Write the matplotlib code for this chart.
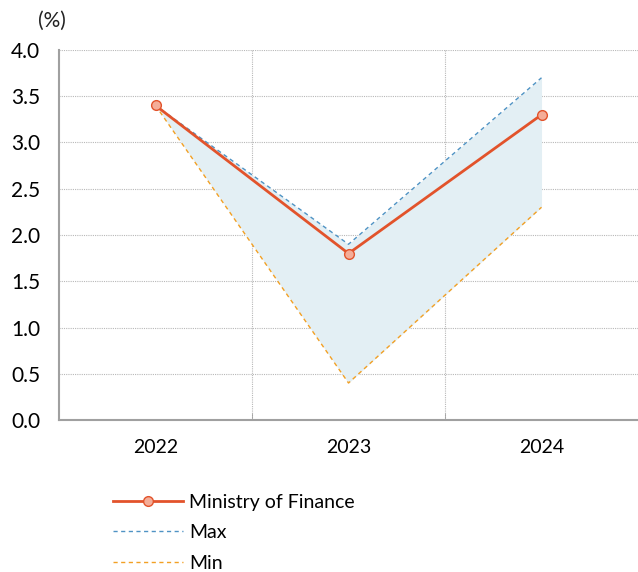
import matplotlib
matplotlib.use("Agg")
import matplotlib.pyplot as plt
import numpy as np

years = ["2022", "2023", "2024"]
mof = [3.4, 1.8, 3.3]
max_vals = [3.4, 1.9, 3.7]
min_vals = [3.4, 0.4, 2.3]
y_ticks = [0.0, 0.5, 1.0, 1.5, 2.0, 2.5, 3.0, 3.5, 4.0]

plt.rcParams["font.family"] = ["Lato", "DejaVu Sans"]

fig = plt.figure(figsize=(6.38, 5.72), dpi=100)
ax = fig.add_axes([0.0925, 0.2657, 0.9075, 0.6469])

x = np.arange(len(years))

ax.fill_between(x, min_vals, max_vals, color="#e3eff4", lw=0, zorder=1)
ax.plot(x, max_vals, ls=(0, (3, 2.5)), color="#4f93c4", lw=1.0, zorder=3, label="Max")
ax.plot(x, min_vals, ls=(0, (3, 2.5)), color="#f2a024", lw=1.0, zorder=3, label="Min")
ax.plot(x, mof, color="#e2532b", lw=2.0, marker="o", markersize=7,
        markerfacecolor="#f4ad98", markeredgecolor="#e2532b", markeredgewidth=1.0,
        zorder=4, label="Ministry of Finance")

ax.set_xlim(-0.5, 2.5)
ax.set_ylim(0, 4.0)
ax.set_yticks(y_ticks)
ax.set_yticklabels([f"{v:.1f}" for v in y_ticks], fontsize=15)
ax.set_xticks(x)
ax.set_xticklabels(years, fontsize=14)
ax.tick_params(axis="x", length=0, pad=14)
ax.tick_params(axis="y", length=0, pad=13.5)

# category boundaries
bounds = [0.5, 1.5]
ax.set_xticks(bounds, minor=True)
ax.tick_params(axis="x", which="minor", length=5, direction="in", color="#a0a0a0")
ax.grid(axis="x", which="minor", ls=(0, (1, 1)), color="#b8b8b8", lw=0.8)
ax.grid(axis="y", which="major", ls=(0, (1, 1)), color="#b8b8b8", lw=0.8)
ax.set_axisbelow(True)

for s in ["top", "right"]:
    ax.spines[s].set_visible(False)
for s in ["left", "bottom"]:
    ax.spines[s].set_color("#a0a0a0")
    ax.spines[s].set_linewidth(1.5)

fig.text(0.0815, 0.963, "(%)", fontsize=15, ha="center", va="center", color="#222222")

handles, labels = ax.get_legend_handles_labels()
order = [2, 0, 1]
leg = fig.legend([handles[i] for i in order], [labels[i] for i in order],
                 loc="upper left", bbox_to_anchor=(0.177, 0.137), frameon=False,
                 fontsize=14, handlelength=3.6, handletextpad=0.3,
                 labelspacing=0.7, borderaxespad=0, borderpad=0)

fig.savefig("out.png", dpi=100)
